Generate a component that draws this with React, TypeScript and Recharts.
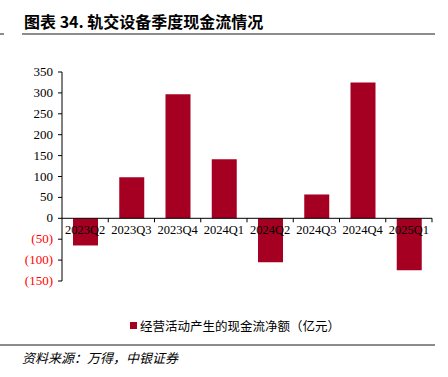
import { BarChart, Bar, XAxis, YAxis, ReferenceLine } from 'recharts'

const quarters = ['2023Q2', '2023Q3', '2023Q4', '2024Q1', '2024Q2', '2024Q3', '2024Q4', '2025Q1']
const netCash = [-65, 98, 297, 141, -105, 57, 325, -124]
const yTicks = [-150, -100, -50, 0, 50, 100, 150, 200, 250, 300, 350]

const data = quarters.map((q, i) => ({ q, v: netCash[i] }))

const RED = '#A50021'
const SERIF = '"Liberation Serif", "Times New Roman", serif'
const CJK = '"Noto Sans CJK SC", sans-serif'

// chart geometry
const W = 448
const H = 300
const TOP = 72
const BOTTOM = 19
const PLOT_H = H - TOP - BOTTOM
const ZERO_Y = TOP + (350 / 500) * PLOT_H
const BAND = (W - 62 - 16) / quarters.length

function QuarterTick({ x, payload }: { x?: number; y?: number; payload?: { value: string } }) {
  if (!payload || x === undefined) return null
  return (
    <g>
      <line x1={x + BAND / 2} x2={x + BAND / 2} y1={ZERO_Y} y2={ZERO_Y + 4} stroke="#000" />
      <text x={x} y={ZERO_Y + 16} textAnchor="middle" fill="#000" fontSize={12.5} fontFamily={SERIF}>
        {payload.value}
      </text>
    </g>
  )
}

function ValueTick({ x, y, payload }: { x?: number; y?: number; payload?: { value: number } }) {
  if (!payload) return null
  const v = payload.value
  return (
    <text x={x} y={y} dy={4} textAnchor="end" fill={v < 0 ? '#FF0000' : '#000'} fontSize={13} fontFamily={SERIF}>
      {v < 0 ? `(${-v})` : v}
    </text>
  )
}

export default function App() {
  return (
    <div style={{ position: 'absolute', left: 0, top: 0, width: 448, height: 377, background: '#fff' }}>
      <div style={{ position: 'absolute', left: 24, top: 9, fontFamily: CJK, fontWeight: 700, fontSize: 16, color: '#000', whiteSpace: 'nowrap' }}>
        图表 34. 轨交设备季度现金流情况
      </div>
      <div style={{ position: 'absolute', left: 22, top: 33, width: 413, height: 2, background: '#8c8c8c' }} />
      <div style={{ position: 'absolute', left: 0, top: 33, width: 4, height: 2, background: '#8c8c8c' }} />

      <div style={{ position: 'absolute', left: 0, top: 0 }}>
        <BarChart width={W} height={H} data={data} margin={{ top: TOP, right: 16, bottom: 0, left: 0 }}>
          <XAxis dataKey="q" axisLine={false} tickLine={false} height={BOTTOM} tick={<QuarterTick />} interval={0} />
          <YAxis
            domain={[-150, 350]}
            ticks={yTicks}
            width={62}
            axisLine={{ stroke: '#000' }}
            tickLine={{ stroke: '#000' }}
            tickSize={4}
            tickMargin={5}
            tick={<ValueTick />}
            interval={0}
          />
          <Bar dataKey="v" fill={RED} barSize={25} isAnimationActive={false} />
          <ReferenceLine y={0} stroke="#000" />
        </BarChart>
      </div>

      <div style={{ position: 'absolute', left: 130, top: 316, display: 'flex', alignItems: 'center', fontFamily: CJK, fontSize: 12.5, color: '#000', whiteSpace: 'nowrap' }}>
        <span style={{ display: 'inline-block', width: 7, height: 7, background: RED, marginRight: 3 }} />
        经营活动产生的现金流净额（亿元）
      </div>

      <div style={{ position: 'absolute', left: 0, top: 344, width: 435, height: 2, background: '#8c8c8c' }} />
      <div style={{ position: 'absolute', left: 22, top: 348, fontFamily: CJK, fontStyle: 'italic', fontSize: 13, color: '#000', whiteSpace: 'nowrap' }}>
        资料来源：万得，中银证券
      </div>
    </div>
  )
}
